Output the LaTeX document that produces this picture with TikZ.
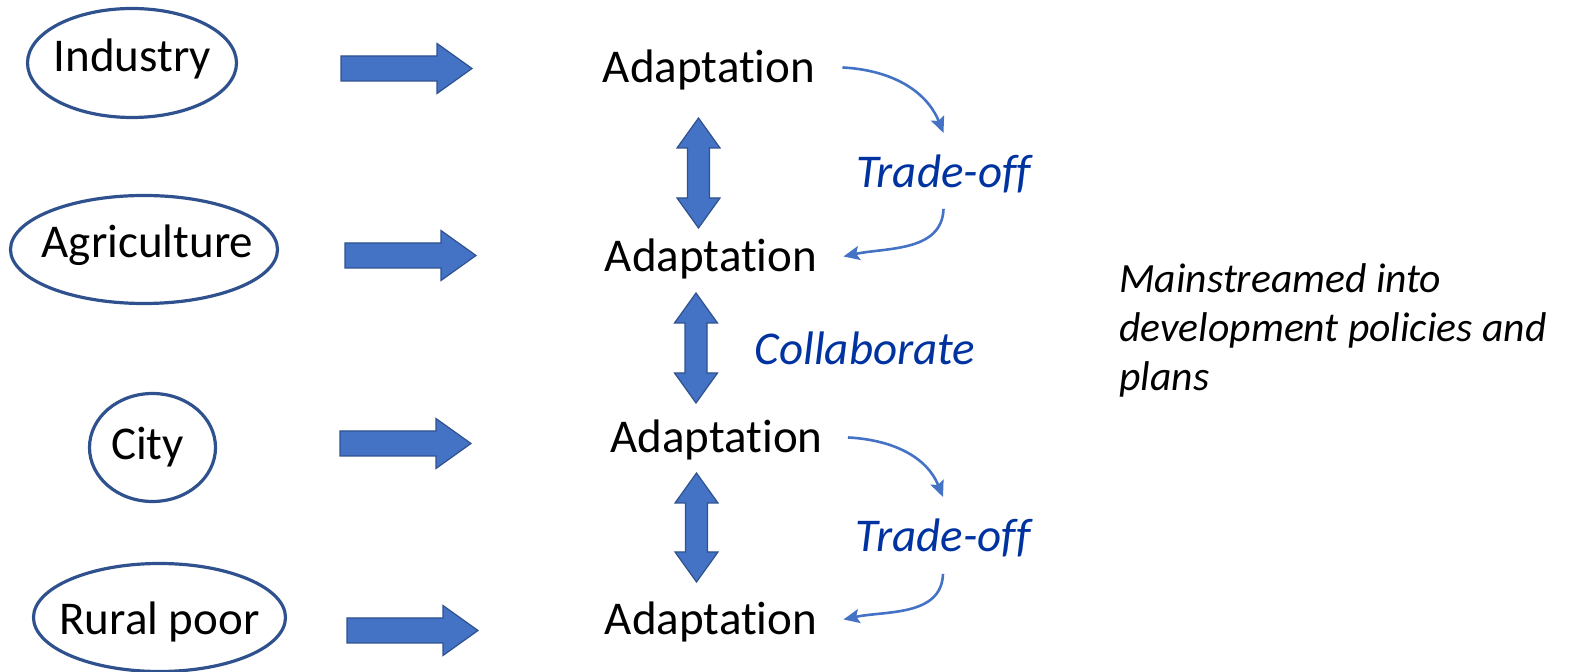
\documentclass[tikz,border=0pt]{standalone}
\usepackage{fontspec}
\setmainfont{Carlito}[Ligatures=NoCommon]
\usetikzlibrary{shapes.geometric,arrows.meta}
\definecolor{fillblue}{HTML}{4472C4}
\definecolor{edgeblue}{HTML}{2F528F}
\definecolor{textblue}{HTML}{0033A0}
\tikzset{
  oval/.style={ellipse, draw=edgeblue, line width=1.6pt, inner sep=0pt},
  word/.style={inner sep=0pt, font=\fontsize{23.5}{28}\selectfont},
  note/.style={inner sep=0pt, text=textblue, font=\fontsize{23.5}{28}\selectfont\itshape},
  fat/.style={fill=fillblue, draw=edgeblue, line width=0.6pt, line join=miter},
  curvy/.style={draw=fillblue, line width=1.3pt, -{Stealth[length=8pt,width=7pt,inset=1.5pt]}}
}
\begin{document}
\begin{tikzpicture}[x=0.5pt,y=-0.5pt]
        \useasboundingbox (0,0) rectangle (1573,672);
        % sectors
        \node[oval, minimum width=104.5pt, minimum height=54.5pt] (ind) at (132,63) {};
        \node[oval, minimum width=133.5pt, minimum height=54pt] (agr) at (144,249.5) {};
        \node[oval, minimum width=63pt, minimum height=54pt] (city) at (152.5,447.5) {};
        \node[oval, minimum width=126pt, minimum height=54pt] (rural) at (159.5,617.5) {};
        \node[word, anchor=base] (indt) at (132.5,72) {Industry};
        \node[word, anchor=base] (agrt) at (147.5,258) {Agriculture};
        \node[word, anchor=base] (cityt) at (147.5,460) {City};
        \node[word, anchor=base] (ruralt) at (159.5,635) {Rural poor};
        % block arrows
        \foreach \x/\y in {341/68.5, 345/255.5, 340/443.5, 347/630.5}
            \draw[fat] (\x,\y-12.5) -- (\x+96,\y-12.5) -- (\x+96,\y-25) -- (\x+131,\y)
                -- (\x+96,\y+25) -- (\x+96,\y+12.5) -- (\x,\y+12.5) -- cycle;
        % adaptations
        \node[word, anchor=base] (a1) at (709,83) {Adaptation};
        \node[word, anchor=base] (a2) at (711,272) {Adaptation};
        \node[word, anchor=base] (a3) at (716.5,453) {Adaptation};
        \node[word, anchor=base] (a4) at (711,635) {Adaptation};
        \foreach \x/\t/\b in {698.5/118/228, 696/293/403, 696.5/473/582}
            \draw[fat] (\x,\t) -- (\x+21.5,\t+30) -- (\x+11,\t+30) -- (\x+11,\b-30)
                -- (\x+21.5,\b-30) -- (\x,\b) -- (\x-21.5,\b-30) -- (\x-11,\b-30)
                -- (\x-11,\t+30) -- (\x-21.5,\t+30) -- cycle;
        % links
        \node[note, anchor=base] (t1) at (943.5,188) {Trade-off};
        \node[note, anchor=base] (col) at (865,365) {Collaborate};
        \node[note, anchor=base] (t2) at (943,552) {Trade-off};
        \draw[curvy] ([xshift=13.5pt,yshift=1.5pt]a1.east) to[out=-3,in=112] ([yshift=11pt]t1.north);
        \draw[curvy] ([yshift=-7.5pt]t1.south) to[out=-92,in=12] ([xshift=13pt,yshift=1.5pt]a2.east);
        \draw[curvy] ([xshift=12.5pt,yshift=1.5pt]a3.east) to[out=-3,in=112] ([yshift=11pt]t2.north);
        \draw[curvy] ([yshift=-8pt]t2.south) to[out=-92,in=12] ([xshift=13pt,yshift=1.5pt]a4.east);
        \node[word, font=\fontsize{20.8}{24.5}\selectfont\itshape, align=left, anchor=base west]
            (main) at (1119,391) {Mainstreamed into\\development policies and\\plans};
    \end{tikzpicture}
\end{document}
